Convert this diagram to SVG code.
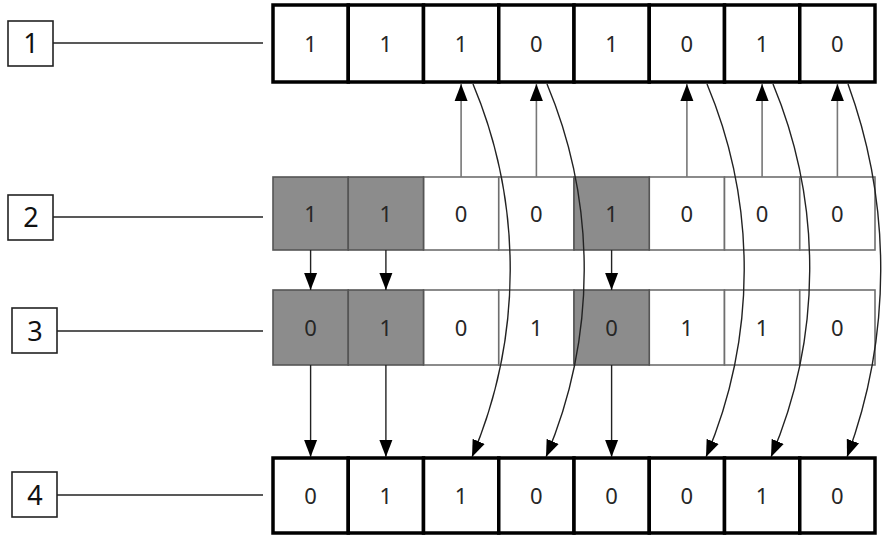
<svg xmlns="http://www.w3.org/2000/svg" width="887" height="540" viewBox="0 0 887 540">
<defs>
<marker id="ah" markerUnits="userSpaceOnUse" markerWidth="18" markerHeight="14" viewBox="0 0 18 14" refX="17" refY="7" orient="auto">
<path d="M0,0.5 L17,7 L0,13.5 Z" fill="#000"/>
</marker>
</defs>
<style>
.lbl{fill:#fff;stroke:#222;stroke-width:1.6}
.lt{font-family:"Noto Sans","Open Sans","DejaVu Sans",sans-serif;font-size:27px;fill:#111;text-anchor:middle}
.ct{font-family:"Noto Sans","Open Sans","DejaVu Sans",sans-serif;font-size:22px;fill:#262626;text-anchor:middle}
.thick{fill:#fff;stroke:#000;stroke-width:3.5}
.thin{fill:#fff;stroke:#6e6e6e;stroke-width:1.6}
.gray{fill:#8c8c8c;stroke:#555;stroke-width:1.6}
.lead{stroke:#222;stroke-width:1.6;fill:none}
.up{stroke:#777;stroke-width:1.6;fill:none}
.dn{stroke:#222;stroke-width:1.4;fill:none}
.cv{stroke:#222;stroke-width:1.4;fill:none}
</style>

<g id="label1"><rect class="lbl" x="8" y="21" width="45" height="45"/><text class="lt" x="31" y="53">1</text></g>
<g id="label2"><rect class="lbl" x="8" y="195" width="45" height="45"/><text class="lt" x="31" y="227">2</text></g>
<g id="label3"><rect class="lbl" x="12" y="308" width="45" height="45"/><text class="lt" x="35" y="341">3</text></g>
<g id="label4"><rect class="lbl" x="12" y="472" width="45" height="45"/><text class="lt" x="35" y="505">4</text></g>

<g id="row1">
<rect class="thick" x="273" y="5" width="75.25" height="77"/>
<rect class="thick" x="348.25" y="5" width="75.25" height="77"/>
<rect class="thick" x="423.5" y="5" width="75.25" height="77"/>
<rect class="thick" x="498.75" y="5" width="75.25" height="77"/>
<rect class="thick" x="574" y="5" width="75.25" height="77"/>
<rect class="thick" x="649.25" y="5" width="75.25" height="77"/>
<rect class="thick" x="724.5" y="5" width="75.25" height="77"/>
<rect class="thick" x="799.75" y="5" width="75.25" height="77"/>
<text class="ct" x="310.6" y="52">1</text>
<text class="ct" x="385.9" y="52">1</text>
<text class="ct" x="461.1" y="52">1</text>
<text class="ct" x="536.4" y="52">0</text>
<text class="ct" x="611.6" y="52">1</text>
<text class="ct" x="686.9" y="52">0</text>
<text class="ct" x="762.1" y="52">1</text>
<text class="ct" x="837.4" y="52">0</text>
</g>

<g id="row2">
<rect class="thin" x="423.5" y="177" width="75.25" height="73"/>
<rect class="thin" x="498.75" y="177" width="75.25" height="73"/>
<rect class="thin" x="649.25" y="177" width="75.25" height="73"/>
<rect class="thin" x="724.5" y="177" width="75.25" height="73"/>
<rect class="thin" x="799.75" y="177" width="75.25" height="73"/>
<rect class="gray" x="273" y="177" width="75.25" height="73"/>
<rect class="gray" x="348.25" y="177" width="75.25" height="73"/>
<rect class="gray" x="574" y="177" width="75.25" height="73"/>
<text class="ct" x="310.6" y="222">1</text>
<text class="ct" x="385.9" y="222">1</text>
<text class="ct" x="461.1" y="222">0</text>
<text class="ct" x="536.4" y="222">0</text>
<text class="ct" x="611.6" y="222">1</text>
<text class="ct" x="686.9" y="222">0</text>
<text class="ct" x="762.1" y="222">0</text>
<text class="ct" x="837.4" y="222">0</text>
</g>

<g id="row3">
<rect class="thin" x="423.5" y="290" width="75.25" height="75"/>
<rect class="thin" x="498.75" y="290" width="75.25" height="75"/>
<rect class="thin" x="649.25" y="290" width="75.25" height="75"/>
<rect class="thin" x="724.5" y="290" width="75.25" height="75"/>
<rect class="thin" x="799.75" y="290" width="75.25" height="75"/>
<rect class="gray" x="273" y="290" width="75.25" height="75"/>
<rect class="gray" x="348.25" y="290" width="75.25" height="75"/>
<rect class="gray" x="574" y="290" width="75.25" height="75"/>
<text class="ct" x="310.6" y="336">0</text>
<text class="ct" x="385.9" y="336">1</text>
<text class="ct" x="461.1" y="336">0</text>
<text class="ct" x="536.4" y="336">1</text>
<text class="ct" x="611.6" y="336">0</text>
<text class="ct" x="686.9" y="336">1</text>
<text class="ct" x="762.1" y="336">1</text>
<text class="ct" x="837.4" y="336">0</text>
</g>

<g id="row4">
<rect class="thick" x="273" y="458" width="75.25" height="75"/>
<rect class="thick" x="348.25" y="458" width="75.25" height="75"/>
<rect class="thick" x="423.5" y="458" width="75.25" height="75"/>
<rect class="thick" x="498.75" y="458" width="75.25" height="75"/>
<rect class="thick" x="574" y="458" width="75.25" height="75"/>
<rect class="thick" x="649.25" y="458" width="75.25" height="75"/>
<rect class="thick" x="724.5" y="458" width="75.25" height="75"/>
<rect class="thick" x="799.75" y="458" width="75.25" height="75"/>
<text class="ct" x="310.6" y="504">0</text>
<text class="ct" x="385.9" y="504">1</text>
<text class="ct" x="461.1" y="504">1</text>
<text class="ct" x="536.4" y="504">0</text>
<text class="ct" x="611.6" y="504">0</text>
<text class="ct" x="686.9" y="504">0</text>
<text class="ct" x="762.1" y="504">1</text>
<text class="ct" x="837.4" y="504">0</text>
</g>

<g id="connectors">
<path class="lead" d="M53,43 H263"/>
<path class="lead" d="M53,217 H263"/>
<path class="lead" d="M57,331 H263"/>
<path class="lead" d="M57,495 H263"/>

<path class="up" d="M461.1,177 V84" marker-end="url(#ah)"/>
<path class="up" d="M536.4,177 V84" marker-end="url(#ah)"/>
<path class="up" d="M686.9,177 V84" marker-end="url(#ah)"/>
<path class="up" d="M762.1,177 V84" marker-end="url(#ah)"/>
<path class="up" d="M837.4,177 V84" marker-end="url(#ah)"/>

<path class="dn" d="M310.6,250 V290" marker-end="url(#ah)"/>
<path class="dn" d="M385.9,250 V290" marker-end="url(#ah)"/>
<path class="dn" d="M611.6,250 V290" marker-end="url(#ah)"/>

<path class="dn" d="M310.6,365 V457" marker-end="url(#ah)"/>
<path class="dn" d="M385.9,365 V457" marker-end="url(#ah)"/>
<path class="dn" d="M611.6,365 V457" marker-end="url(#ah)"/>

<path class="cv" d="M473,84 A480,480 0 0 1 472,457" marker-end="url(#ah)"/>
<path class="cv" d="M547,84 A480,480 0 0 1 546,457" marker-end="url(#ah)"/>
<path class="cv" d="M707,84 A480,480 0 0 1 706,457" marker-end="url(#ah)"/>
<path class="cv" d="M773,84 A480,480 0 0 1 771,457" marker-end="url(#ah)"/>
<path class="cv" d="M848,84 A540,540 0 0 1 847,457" marker-end="url(#ah)"/>
</g>
</svg>
